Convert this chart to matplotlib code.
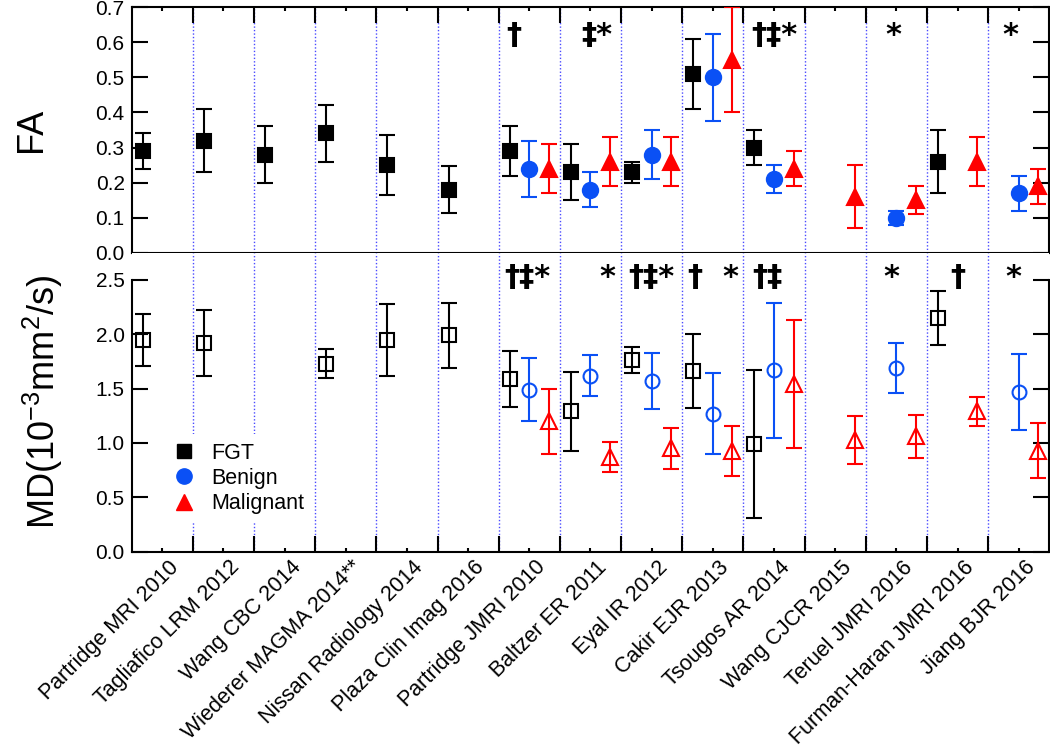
import numpy as np
import matplotlib
matplotlib.use("Agg")
import matplotlib.pyplot as plt
from matplotlib.lines import Line2D
from matplotlib.transforms import ScaledTranslation

nan = np.nan
studies = ["Partridge MRI 2010", "Tagliafico LRM 2012", "Wang CBC 2014",
           "Wiederer MAGMA 2014**", "Nissan Radiology 2014", "Plaza Clin Imag 2016",
           "Partridge JMRI 2010", "Baltzer ER 2011", "Eyal IR 2012", "Cakir EJR 2013",
           "Tsougos AR 2014", "Wang CJCR 2015", "Teruel JMRI 2016",
           "Furman-Haran JMRI 2016", "Jiang BJR 2016"]

fgt_fa = [0.29, 0.32, 0.28, 0.34, 0.25, 0.18, 0.29, 0.23, 0.23, 0.51, 0.30, nan, nan, 0.26, nan]
fgt_fa_sd = [0.05, 0.09, 0.08, 0.08, 0.085, 0.068, 0.07, 0.08, 0.03, 0.10, 0.05, nan, nan, 0.09, nan]
ben_fa = [nan, nan, nan, nan, nan, nan, 0.24, 0.18, 0.28, 0.50, 0.21, nan, 0.10, nan, 0.17]
ben_fa_sd = [nan, nan, nan, nan, nan, nan, 0.08, 0.05, 0.07, 0.125, 0.04, nan, 0.02, nan, 0.05]
mal_fa = [nan, nan, nan, nan, nan, nan, 0.24, 0.26, 0.26, 0.55, 0.24, 0.16, 0.15, 0.26, 0.19]
mal_fa_sd = [nan, nan, nan, nan, nan, nan, 0.07, 0.07, 0.07, 0.15, 0.05, 0.09, 0.04, 0.07, 0.05]

fgt_md = [1.95, 1.92, nan, 1.73, 1.95, 1.99, 1.59, 1.29, 1.76, 1.66, 0.99, nan, nan, 2.15, nan]
fgt_md_sd = [0.24, 0.30, nan, 0.13, 0.33, 0.30, 0.26, 0.36, 0.12, 0.34, 0.68, nan, nan, 0.25, nan]
ben_md = [nan, nan, nan, nan, nan, nan, 1.49, 1.62, 1.57, 1.27, 1.67, nan, 1.69, nan, 1.47]
ben_md_sd = [nan, nan, nan, nan, nan, nan, 0.29, 0.19, 0.26, 0.37, 0.62, nan, 0.23, nan, 0.35]
mal_md = [nan, nan, nan, nan, nan, nan, 1.20, 0.87, 0.95, 0.93, 1.54, 1.03, 1.06, 1.29, 0.93]
mal_md_sd = [nan, nan, nan, nan, nan, nan, 0.30, 0.14, 0.19, 0.23, 0.59, 0.22, 0.20, 0.13, 0.25]

# significance marks: (study index, text, x offset within group)
fa_marks = [(6, "†", -0.25), (7, "‡*", 0.10), (10, "†‡*", 0.0), (12, "*", -0.05), (14, "*", -0.13)]
md_marks = [(6, "†‡*", -0.03), (7, "*", 0.28), (8, "†‡*", 0.0), (9, "†", -0.29), (9, "*", 0.29),
            (10, "†‡", -0.10), (12, "*", -0.08), (13, "†", 0.0), (14, "*", -0.09)]

plt.rcParams['font.family'] = ['Liberation Sans', 'DejaVu Sans']
plt.rcParams['mathtext.fontset'] = 'custom'
plt.rcParams['mathtext.rm'] = 'Liberation Sans'
plt.rcParams['axes.unicode_minus'] = False

BLACK, BLUE, RED = "#000000", "#0a50f5", "#ff0000"
DIV = "#4a4aff"
n = len(studies)
xc = np.arange(n)
OFF = 0.32

fig = plt.figure(figsize=(10.5, 7.54), dpi=100)
ax1 = fig.add_axes([0.1254, 0.6649, 0.8739, 0.3254])
ax2 = fig.add_axes([0.1254, 0.2683, 0.8739, 0.3966])

def plot_series(ax, vals, sds, off, marker, color, ms, filled):
    v = np.array(vals, float); s = np.array(sds, float)
    m = ~np.isnan(v)
    ax.errorbar(xc[m] + off, v[m], yerr=s[m], fmt=marker, color=color, ms=ms,
                mfc=color if filled else 'none', mec=color, mew=1.5,
                elinewidth=1.5, capsize=5.5, capthick=1.5, zorder=3)

plot_series(ax1, fgt_fa, fgt_fa_sd, -OFF, 's', BLACK, 10, True)
plot_series(ax1, ben_fa, ben_fa_sd, 0, 'o', BLUE, 11, True)
plot_series(ax1, mal_fa, mal_fa_sd, OFF, '^', RED, 12, True)
plot_series(ax2, fgt_md, fgt_md_sd, -OFF, 's', BLACK, 9.5, False)
plot_series(ax2, ben_md, ben_md_sd, 0, 'o', BLUE, 10, False)
plot_series(ax2, mal_md, mal_md_sd, OFF, '^', RED, 11, False)

dividers = np.arange(1, n) - 0.5
for ax in (ax1, ax2):
    ax.set_xlim(-0.5, n - 0.5)
    for d in dividers:
        ax.axvline(d, color=DIV, ls=(0, (1, 1.5)), lw=1.0, zorder=1)
    for sp in ax.spines.values():
        sp.set_linewidth(1.5)
    ax.tick_params(axis='y', which='major', direction='in', length=11.5, width=1.5,
                   left=True, right=True, labelsize=15, pad=5)

ax1.set_ylim(0, 0.7)
ax1.set_yticks(np.arange(0, 0.71, 0.1))
ax1.set_yticklabels([f"{v:.1f}" for v in np.arange(0, 0.71, 0.1)])
ax1.set_xticks(dividers)
ax1.set_xticks(xc, minor=True)
ax1.tick_params(axis='x', which='both', direction='in', top=True, bottom=False,
                labelbottom=False, labeltop=False, width=1.5)
ax1.tick_params(axis='x', which='major', length=11.5)
ax1.tick_params(axis='x', which='minor', length=3)

ax2.set_ylim(0, 2.75)
ax2.spines['top'].set_visible(False)
ax2.spines['left'].set_bounds(0, 2.5)
ax2.spines['right'].set_bounds(0, 2.5)
ax2.set_yticks(np.arange(0, 2.51, 0.5))
ax2.set_yticklabels([f"{v:.1f}" for v in np.arange(0, 2.51, 0.5)])
ax2.set_xticks(dividers)
ax2.set_xticklabels([])
ax2.set_xticks(xc, minor=True)
ax2.set_xticklabels(studies, minor=True, rotation=45, ha='right', va='center',
                    rotation_mode='anchor', fontsize=15.5)
ax2.tick_params(axis='x', which='both', direction='in', top=False, bottom=True, width=1.5)
ax2.tick_params(axis='x', which='major', length=11.5)
ax2.tick_params(axis='x', which='minor', length=3, pad=9)
shift = ScaledTranslation(13 / 100, 0, fig.dpi_scale_trans)
for lab in ax2.get_xticklabels(minor=True):
    lab.set_transform(lab.get_transform() + shift)

mark_font = dict(ha='center', va='center', fontsize=22, fontweight='bold',
                 family='DejaVu Sans', zorder=4)
for i, t, o in fa_marks:
    ax1.text(i + o, 0.62, t, **mark_font)
for i, t, o in md_marks:
    ax2.text(i + o, 2.52, t, **mark_font)

ax1.set_ylabel("FA", fontsize=26)
ax1.yaxis.set_label_coords(-0.090, 0.5)
ax2.set_ylabel(r"MD(10$^{\mathregular{-3}}$mm$^{\mathregular{2}}$/s)", fontsize=26)
ax2.yaxis.set_label_coords(-0.073, 0.5)

handles = [Line2D([], [], marker='s', color=BLACK, ls='none', ms=10),
           Line2D([], [], marker='o', color=BLUE, ls='none', ms=11),
           Line2D([], [], marker='^', color=RED, ls='none', ms=12)]
leg = ax2.legend(handles, ["FGT", "Benign", "Malignant"], loc='center left',
                 bbox_to_anchor=(0.036, 0.245), borderaxespad=0, fontsize=15.5,
                 handlelength=1.0, handletextpad=0.75, labelspacing=0.2,
                 frameon=True, fancybox=False, edgecolor='none', facecolor='white',
                 framealpha=1.0, borderpad=0.4)
leg.set_zorder(5)

fig.savefig("out.png", dpi=100)
